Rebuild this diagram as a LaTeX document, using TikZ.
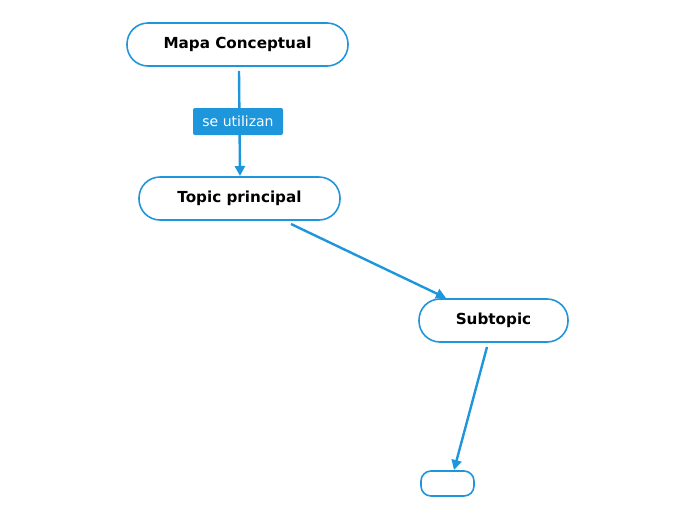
\documentclass[tikz,border=0pt]{standalone}
\usepackage{fontspec}
\setmainfont{DejaVu Sans}
\usetikzlibrary{arrows.meta}
\definecolor{mblue}{HTML}{1E96DC}
\begin{document}
\begin{tikzpicture}[x=1pt,y=-1pt,
  topic/.style={draw=mblue,line width=1.6pt,fill=white,rounded corners=21pt,font=\fontsize{15.2}{17}\selectfont\bfseries,inner sep=0pt},
  lab/.style={fill=mblue,text=white,rounded corners=2pt,font=\fontsize{14}{16}\selectfont,minimum width=90pt,minimum height=27pt,inner sep=0pt},
  conn/.style={draw=mblue,line width=2.4pt,-{Triangle[length=10pt,width=10pt]}}]
\useasboundingbox (0,0) rectangle (696,520);
\node[topic,minimum width=221pt,minimum height=43pt] (a) at (237.5,44.5) {Mapa Conceptual};
\node[topic,minimum width=201pt,minimum height=43pt] (b) at (239.5,198.5) {Topic principal};
\node[topic,minimum width=149pt,minimum height=43pt] (c) at (493.5,320.5) {Subtopic};
\node[topic,rounded corners=10pt,minimum width=53pt,minimum height=25pt] (d) at (447.5,483.5) {};
\coordinate (a1) at (239,71);
\coordinate (b0) at (240,176);
\coordinate (b1) at (291,224);
\coordinate (c0) at (446,298);
\coordinate (c1) at (487,347);
\coordinate (d0) at (454,470);
\draw[conn] (a1) -- (b0);
\node[lab] (l) at (238,121.5) {se utilizan};
\draw[conn] (b1) -- (c0);
\draw[conn] (c1) -- (d0);
\end{tikzpicture}
\end{document}
